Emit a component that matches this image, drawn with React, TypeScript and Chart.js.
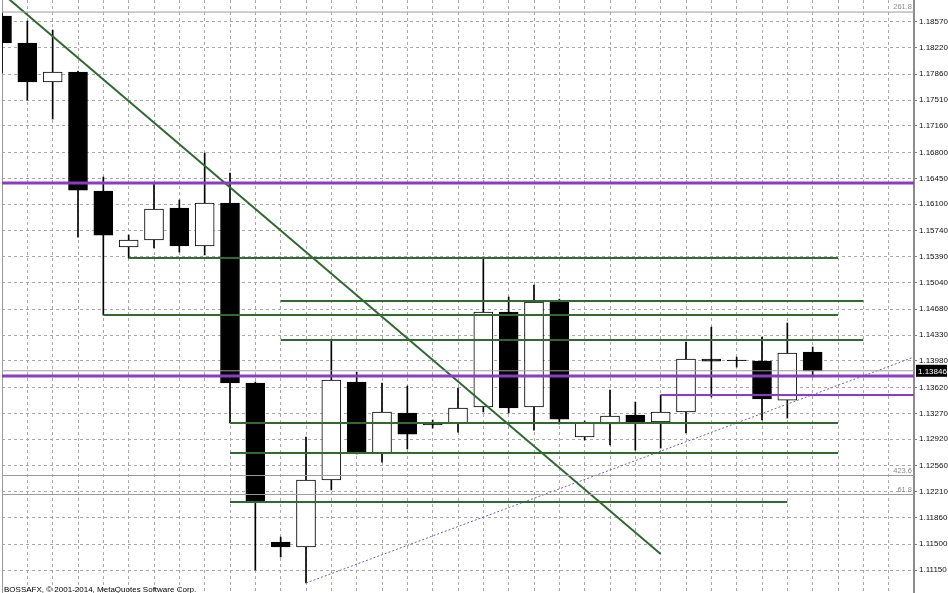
import React, { useEffect, useRef } from 'react';
import { Chart, registerables } from 'chart.js';

Chart.register(...registerables);

// ---- Candles (bar index 0..32) ----
const opens = [1.18647, 1.18282, 1.17754, 1.17889, 1.16279, 1.15521, 1.15616, 1.16049, 1.15535, 1.16116, 1.13681, 1.11529, 1.11461, 1.12368, 1.13694, 1.12733, 1.13275, 1.13126, 1.13139, 1.13356, 1.14641, 1.13356, 1.14777, 1.12950, 1.13126, 1.13248, 1.13153, 1.13288, 1.14005, 1.13992, 1.13978, 1.13450, 1.14100];
const highs = [1.18688, 1.18579, 1.18458, 1.17903, 1.16468, 1.15683, 1.16387, 1.16157, 1.16793, 1.16522, 1.13694, 1.11596, 1.12950, 1.14249, 1.13829, 1.13681, 1.13640, 1.13180, 1.13613, 1.15372, 1.14844, 1.15007, 1.14817, 1.13166, 1.13586, 1.13423, 1.13518, 1.14235, 1.14438, 1.14032, 1.14303, 1.14493, 1.14168];
const lows = [1.17876, 1.17510, 1.17253, 1.15656, 1.14601, 1.15372, 1.15508, 1.15453, 1.15413, 1.13139, 1.11150, 1.11326, 1.10974, 1.12233, 1.12720, 1.12611, 1.12787, 1.13072, 1.13017, 1.13288, 1.13275, 1.13044, 1.13126, 1.12909, 1.12842, 1.12774, 1.12801, 1.13004, 1.13491, 1.13897, 1.13180, 1.13207, 1.13762];
const closes = [1.18282, 1.17754, 1.17889, 1.16292, 1.15683, 1.15616, 1.16035, 1.15535, 1.16116, 1.13681, 1.12070, 1.11461, 1.12368, 1.13721, 1.12733, 1.13288, 1.12990, 1.13112, 1.13342, 1.14641, 1.13342, 1.14777, 1.13193, 1.13139, 1.13234, 1.13153, 1.13288, 1.14005, 1.13978, 1.13982, 1.13464, 1.14087, 1.13846];

// ---- Price axis ----
const yTickLabels = [1.18570, 1.18220, 1.17860, 1.17510, 1.17160, 1.16800, 1.16450, 1.16100, 1.15740, 1.15390, 1.15040, 1.14680, 1.14330, 1.13980, 1.13620, 1.13270, 1.12920, 1.12560, 1.12210, 1.11860, 1.11500, 1.11150];
const yMin = 1.10839;
const yMax = 1.18864;
const xMin = 0;
const xMax = 36;

// ---- Drawn objects ----
const purpleLevels = [1.16387, 1.13775];
const purpleShortLevels = [1.13518];
const purpleShortStart = [26];
const greenLevels = [1.15372, 1.14790, 1.14601, 1.14262, 1.13139, 1.12733, 1.12070];
const greenStart = [5, 11, 4, 11, 9, 9, 9];
const greenEnd = [33, 34, 33, 34, 33, 33, 31];
const fibLevels = [1.18701, 1.12429, 1.12172];
const fibLabels = ['261.8', '423.6', '61.8'];
const bidPrice = 1.13846;
const trendX = [0, 26];
const trendY = [1.18956, 1.11366];
const dottedX = [12, 36];
const dottedY = [1.10974, 1.14032];
const copyright = 'BOSSAFX, \u00A9 2001-2014, MetaQuotes Software Corp.';

const GREEN = '#2d6b2f';
const PURPLE = '#8a3cc8';
const GRID = '#a9a9a9';
const AXIS_FONT = "'Liberation Sans Narrow', 'Liberation Sans', Arial, sans-serif";

function hLine(x1: number, x2: number, v: number, color: string, width: number, dash: number[] = []) {
  return {
    type: 'line' as const,
    data: [{ x: x1, y: v }, { x: x2, y: v }],
    borderColor: color,
    borderWidth: width,
    borderDash: dash,
    pointRadius: 0,
    fill: false,
    tension: 0,
    order: 0,
    clip: 0,
  };
}

const overlayPlugin = {
  id: 'mtOverlay',
  beforeDatasetsDraw(chart: any) {
    const { ctx, chartArea } = chart;
    ctx.save();
    ctx.strokeStyle = '#9a9a9a';
    ctx.lineWidth = 1;
    ctx.beginPath();
    ctx.moveTo(chartArea.left + 0.5, chartArea.top);
    ctx.lineTo(chartArea.left + 0.5, chartArea.bottom);
    ctx.stroke();
    ctx.restore();
  },
  afterDraw(chart: any) {
    const { ctx, chartArea } = chart;
    const ys = chart.scales.y;
    ctx.save();
    ctx.font = `7.5px ${AXIS_FONT}`;
    ctx.fillStyle = '#8c8c8c';
    ctx.textAlign = 'right';
    ctx.textBaseline = 'bottom';
    fibLevels.forEach((v, i) => {
      ctx.fillText(fibLabels[i], chartArea.right - 2, ys.getPixelForValue(v) - 1);
    });
    const by = ys.getPixelForValue(bidPrice);
    ctx.fillStyle = '#000';
    ctx.fillRect(chartArea.right + 2, by - 6, 31, 12);
    ctx.fillStyle = '#fff';
    ctx.font = `8px ${AXIS_FONT}`;
    ctx.textAlign = 'left';
    ctx.textBaseline = 'middle';
    ctx.fillText(bidPrice.toFixed(5), chartArea.right + 4, by + 0.5);
    ctx.fillStyle = '#000';
    ctx.font = `8px ${AXIS_FONT}`;
    ctx.textBaseline = 'alphabetic';
    ctx.fillText(copyright, chartArea.left + 2, chartArea.bottom - 1);
    ctx.restore();
  },
};

export default function App() {
  const ref = useRef<HTMLCanvasElement | null>(null);

  useEffect(() => {
    if (!ref.current) return;
    const idx = opens.map((_, i) => i);
    const bodyColors = opens.map((o, i) => (closes[i] > o ? '#ffffff' : '#000000'));
    const lineSets: any[] = [];
    fibLevels.forEach((v) => lineSets.push(hLine(xMin, xMax, v, '#9c9c9c', 1)));
    lineSets.push(hLine(xMin, xMax, bidPrice, '#9c9c9c', 1));
    greenLevels.forEach((v, i) => lineSets.push(hLine(greenStart[i], greenEnd[i], v, GREEN, 2)));
    purpleLevels.forEach((v) => lineSets.push(hLine(xMin, xMax, v, PURPLE, 3)));
    purpleShortLevels.forEach((v, i) => lineSets.push(hLine(purpleShortStart[i], xMax, v, PURPLE, 2)));
    lineSets.push({
      type: 'line',
      data: [{ x: trendX[0], y: trendY[0] }, { x: trendX[1], y: trendY[1] }],
      borderColor: GREEN, borderWidth: 2, pointRadius: 0, fill: false, order: 0, clip: 0,
    });
    lineSets.push({
      type: 'line',
      data: [{ x: dottedX[0], y: dottedY[0] }, { x: dottedX[1], y: dottedY[1] }],
      borderColor: '#7264b0', borderWidth: 1, borderDash: [2, 2], pointRadius: 0, fill: false, order: 0, clip: 0,
    });

    const chart = new Chart(ref.current, {
      type: 'bar',
      data: {
        datasets: [
          {
            type: 'bar',
            data: idx.map((i) => ({ x: i, y: [lows[i], highs[i]] })) as any,
            backgroundColor: '#000',
            borderWidth: 0,
            barThickness: 1,
            grouped: false,
            order: 2,
            clip: 0,
          } as any,
          {
            type: 'bar',
            data: idx.map((i) => ({ x: i, y: [opens[i], closes[i]] })) as any,
            backgroundColor: bodyColors,
            borderColor: '#000',
            borderWidth: 1,
            borderSkipped: false,
            barThickness: 19,
            grouped: false,
            order: 1,
            clip: 0,
          } as any,
          ...lineSets,
        ],
      },
      options: {
        animation: false,
        responsive: false,
        events: [],
        layout: { padding: { left: 2, top: 0, right: 0, bottom: 0 } },
        plugins: { legend: { display: false }, tooltip: { enabled: false } },
        scales: {
          x: {
            type: 'linear',
            min: xMin,
            max: xMax,
            offset: false,
            afterBuildTicks: (scale: any) => {
              const t: any[] = [];
              for (let v = xMin; v <= xMax; v++) t.push({ value: v });
              scale.ticks = t;
            },
            ticks: { display: false },
            grid: { color: GRID, lineWidth: 1, drawTicks: false, offset: false },
            border: { display: false, dash: [3, 3] },
          },
          y: {
            type: 'linear',
            position: 'right',
            min: yMin,
            max: yMax,
            beginAtZero: false,
            afterBuildTicks: (scale: any) => {
              scale.ticks = yTickLabels.map((v) => ({ value: v }));
            },
            afterFit: (scale: any) => {
              scale.width = 34;
              scale.paddingTop = 0;
              scale.paddingBottom = 0;
            },
            ticks: {
              autoSkip: false,
              padding: 2,
              color: '#111',
              font: { family: AXIS_FONT, size: 8 },
              callback: (v: any) => Number(v).toFixed(5),
            },
            grid: { color: GRID, lineWidth: 1, drawTicks: true, tickLength: 3, tickColor: '#808080', tickBorderDash: [] },
            border: { display: true, color: '#8c8c8c', width: 2, dash: [3, 3] },
          },
        },
      } as any,
      plugins: [overlayPlugin],
    });
    return () => chart.destroy();
  }, []);

  return (
    <div style={{ position: 'fixed', left: 0, top: 0, width: 948, height: 593, background: '#fff' }}>
      <canvas ref={ref} width={948} height={593} style={{ display: 'block' }} />
    </div>
  );
}
